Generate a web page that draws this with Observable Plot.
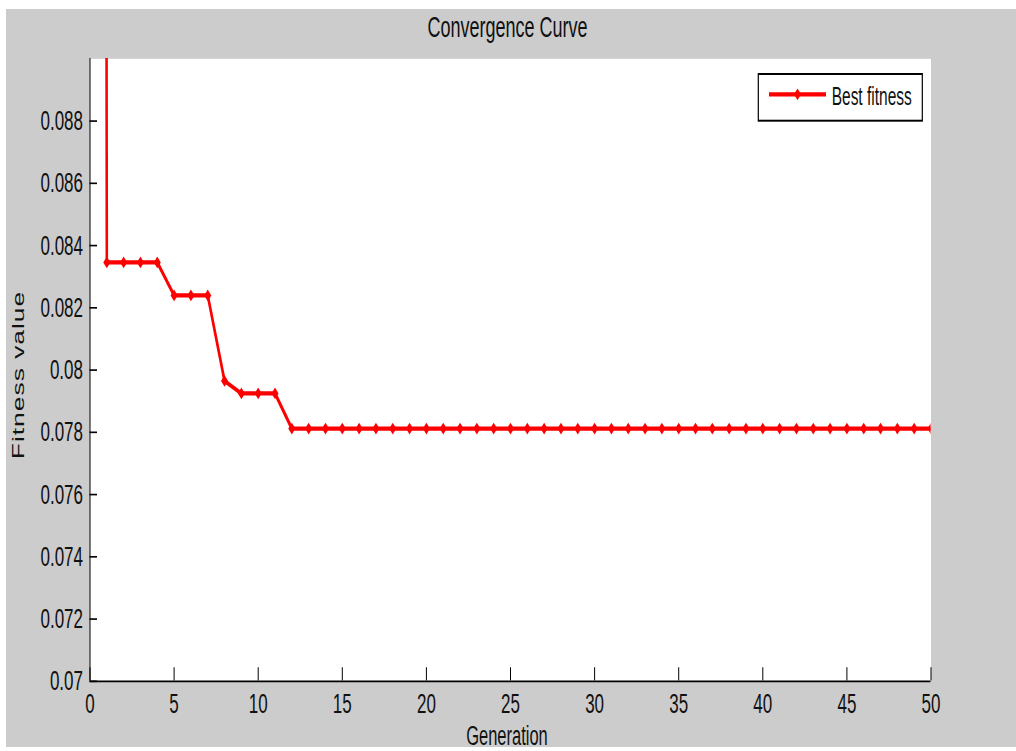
<!DOCTYPE html>
<html><head><meta charset="utf-8">
<script src="https://cdn.jsdelivr.net/npm/d3@7"></script>
<script src="https://cdn.jsdelivr.net/npm/@observablehq/plot@0.6"></script>
<style>
html,body{margin:0;padding:0;background:#fff;}
#wrap{position:relative;width:1016px;height:751px;overflow:hidden;}
#bg{position:absolute;left:6px;top:9px;width:1010px;height:738px;background:#cccccc;}
#chart{position:absolute;left:0;top:0;}
</style></head><body>
<div id="wrap"><div id="bg"></div><div id="chart"></div></div>
<script>
// ---- data ----
const generations = [0,1,2,3,4,5,6,7,8,9,10,11,12,13,14,15,16,17,18,19,20,21,22,23,24,25,26,27,28,29,30,31,32,33,34,35,36,37,38,39,40,41,42,43,44,45,46,47,48,49,50];
const bestFitness = [0.5,
  0.08346,0.08346,0.08346,0.08346,
  0.0824,0.0824,0.0824,
  0.07965,
  0.07925,0.07925,0.07925,
  0.07812,0.07812,0.07812,0.07812,0.07812,0.07812,0.07812,0.07812,0.07812,0.07812,
  0.07812,0.07812,0.07812,0.07812,0.07812,0.07812,0.07812,0.07812,0.07812,0.07812,
  0.07812,0.07812,0.07812,0.07812,0.07812,0.07812,0.07812,0.07812,0.07812,0.07812,
  0.07812,0.07812,0.07812,0.07812,0.07812,0.07812,0.07812,0.07812,0.07812];
const xTicks = [0,5,10,15,20,25,30,35,40,45,50];
const yTicks = [0.07,0.072,0.074,0.076,0.078,0.08,0.082,0.084,0.086,0.088];
const titleText = "Convergence Curve";
const xLabel = "Generation";
const yLabel = "Fitness value";
const seriesName = "Best fitness";

// ---- layout (the picture is vertically stretched) ----
const K = 1.65, W = 1016, H = 751, H0 = H / K;
const FONT = "'Liberation Sans', Arial, Helvetica, sans-serif";
const ml = 89.5, mr = W - 930.5, mt = 58 / K, mb = H0 - 680.5 / K;
const fw = W - ml - mr, fh = H0 - mt - mb;
const RED = "#ff0000";
const LW = 2.6, MR = 3.2;

const data = generations.map((g, i) => ({g, v: bestFitness[i]}));

const svg = Plot.plot({
  width: W, height: H0,
  marginLeft: ml, marginRight: mr, marginTop: mt, marginBottom: mb,
  style: {fontFamily: FONT, background: "transparent", color: "#111"},
  x: {domain: [0, 50]},
  y: {domain: [0.07, 0.09]},
  marks: [
    Plot.frame({fill: "white", stroke: "none"}),
    Plot.line(data, {x: "g", y: "v", stroke: RED, strokeWidth: LW, clip: true}),
    Plot.dot(data, {x: "g", y: "v", symbol: "diamond2", r: MR, fill: RED, clip: true}),
    Plot.ruleX([0], {stroke: "#000"}),
    Plot.ruleY([0.07], {stroke: "#000"}),
    Plot.tickX(xTicks, {x: d => d, stroke: "#000", insetTop: fh - 8}),
    Plot.tickY(yTicks, {y: d => d, stroke: "#000", insetRight: fw - 7.5}),
    Plot.axisX(xTicks, {tickSize: 0, tickPadding: 7, fontSize: 17, label: null, fill: "#111"}),
    Plot.axisY(yTicks, {tickSize: 0, tickPadding: 7, fontSize: 17, label: null, fill: "#111",
                        tickFormat: d => String(+d.toFixed(3))})
  ]
});

svg.setAttribute("height", H);
svg.setAttribute("preserveAspectRatio", "none");
svg.style.width = W + "px";
svg.style.height = H + "px";
svg.style.maxWidth = "none";

const s = d3.select(svg);
s.append("text").text(titleText)
  .attr("x", 507.5).attr("y", 22.4).attr("text-anchor", "middle")
  .attr("font-size", 18).attr("fill", "#111").attr("font-family", FONT);
s.append("text").text(xLabel)
  .attr("x", 507).attr("y", 745 / K).attr("text-anchor", "middle")
  .attr("font-size", 16.5).attr("fill", "#111").attr("font-family", FONT);
s.append("text").text(yLabel)
  .attr("transform", `translate(24,${375 / K}) rotate(-90)`).attr("text-anchor", "middle")
  .attr("font-size", 16).attr("letter-spacing", 0.6).attr("fill", "#111").attr("font-family", FONT);

const lg = s.append("g");
lg.append("rect").attr("x", 758.3).attr("y", 74 / K).attr("width", 164).attr("height", 46.7 / K)
  .attr("fill", "white").attr("stroke", "#000").attr("stroke-width", 1.2);
lg.append("line").attr("x1", 769).attr("x2", 826).attr("y1", 94.3 / K).attr("y2", 94.3 / K)
  .attr("stroke", RED).attr("stroke-width", LW);
lg.append("path").attr("d", d3.symbol(d3.symbolDiamond2, Math.PI * MR * MR)())
  .attr("transform", `translate(797.5,${94.3 / K})`).attr("fill", RED);
lg.append("text").text(seriesName)
  .attr("x", 831.7).attr("y", 105 / K).attr("text-anchor", "start")
  .attr("font-size", 15.5).attr("fill", "#111").attr("font-family", FONT);

document.getElementById("chart").appendChild(svg);
</script>
</body></html>
